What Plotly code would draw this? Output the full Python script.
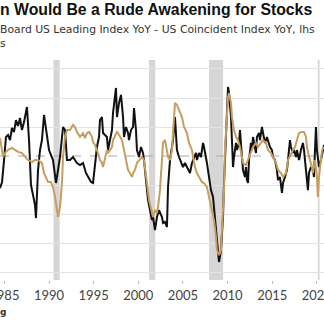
import plotly.graph_objects as go

# ---- data ----
lead_years = [1984.51,1984.74,1984.96,1985.18,1985.41,1985.63,1985.85,1986.08,1986.30,1986.53,1986.75,1986.97,1987.20,1987.42,1987.53,1987.76,1987.98,1988.21,1988.43,1988.54,1988.77,1988.99,1989.21,1989.44,1989.77,1990.00,1990.45,1990.78,1990.89,1991.23,1991.57,1991.79,1992.01,1992.35,1992.69,1993.13,1993.47,1993.81,1994.14,1994.37,1994.70,1994.93,1995.15,1995.37,1995.60,1995.71,1995.93,1996.05,1996.49,1996.61,1996.83,1997.05,1997.17,1997.50,1997.61,1997.84,1998.06,1998.29,1998.40,1998.62,1998.85,1998.96,1999.18,1999.41,1999.52,1999.74,1999.85,2000.08,2000.30,2000.53,2000.64,2000.86,2001.09,2001.31,2001.53,2001.65,2001.87,2002.09,2002.32,2002.65,2002.77,2002.99,2003.21,2003.33,2003.55,2003.77,2003.89,2004.11,2004.22,2004.33,2004.56,2004.78,2005.01,2005.23,2005.45,2005.57,2005.79,2006.01,2006.13,2006.46,2006.57,2006.80,2007.02,2007.25,2007.36,2007.58,2007.69,2007.92,2008.14,2008.37,2008.48,2008.59,2008.81,2008.93,2009.04,2009.26,2009.49,2009.60,2009.82,2009.93,2010.05,2010.16,2010.38,2010.49,2010.61,2010.72,2010.94,2011.05,2011.28,2011.39,2011.50,2011.61,2011.73,2011.95,2012.06,2012.17,2012.29,2012.40,2012.62,2012.73,2012.85,2013.07,2013.18,2013.29,2013.52,2013.63,2013.85,2013.97,2014.08,2014.19,2014.41,2014.53,2014.75,2014.97,2015.09,2015.31,2015.53,2015.65,2015.87,2016.09,2016.21,2016.43,2016.65,2016.77,2016.99,2017.10,2017.33,2017.44,2017.66,2017.77,2018.00,2018.22,2018.44,2018.56,2018.67,2018.89,2019.00,2019.12,2019.34,2019.56,2019.68,2019.79,2019.90,2020.01,2020.24,2020.46,2020.69,2020.80]
lead_minus_coinc = [-2.21,-1.79,-0.28,1.31,1.45,1.10,1.93,1.66,2.48,2.07,2.62,1.79,2.34,3.03,3.38,1.10,-2.00,-2.69,-3.38,-4.28,-0.97,0.41,1.10,2.83,1.31,0.41,-0.28,-1.86,-1.45,-0.07,2.00,1.79,-0.28,-0.28,-0.07,-0.48,-0.62,-0.48,-1.17,-1.45,-1.79,-1.86,-0.48,0.62,1.31,2.48,2.69,1.59,1.31,0.41,1.10,1.79,2.97,4.69,2.69,3.66,4.21,2.69,1.31,2.00,1.59,1.10,1.79,2.00,3.31,1.79,0.41,-0.07,0.62,0.21,-0.28,-1.86,-3.04,-3.73,-4.42,-4.21,-5.11,-4.21,-3.73,-4.21,-4.62,-4.55,-4.90,-2.14,-0.28,0.62,1.10,2.69,0.90,0.41,-0.07,-0.48,-0.76,-0.48,-0.76,-0.97,-1.17,-0.48,-0.28,0.21,-0.28,0.21,-0.07,0.90,0.62,-0.07,-0.48,-1.45,-2.35,-2.83,-3.52,-4.62,-5.80,-6.69,-7.31,-6.49,-4.21,-1.86,0.90,3.17,4.76,4.35,2.69,1.10,-0.76,-0.07,0.90,0.41,0.90,1.79,1.10,-0.07,-0.97,-1.45,-0.76,-1.66,-1.86,-0.28,0.90,0.41,1.31,0.62,0.21,1.31,1.59,1.10,2.00,1.59,1.10,0.90,1.31,1.10,0.62,0.41,-0.07,-0.28,-0.97,-1.66,-1.45,-2.55,-1.86,-1.45,-0.97,-0.28,1.10,0.62,0.21,0.41,-0.07,0.41,-0.28,0.41,0.90,0.41,-0.28,-1.45,-2.35,-1.17,-0.76,-0.97,-1.45,0.41,2.00,0.41,-0.76,-0.28,0.41,0.76]

rhs_years = [1984.51,1984.74,1984.85,1985.07,1985.41,1985.85,1986.19,1986.53,1986.97,1987.31,1987.65,1988.09,1988.43,1988.77,1989.21,1989.44,1989.66,1989.89,1990.22,1990.45,1990.67,1990.89,1991.01,1991.23,1991.45,1991.57,1991.79,1992.01,1992.35,1992.69,1992.91,1993.13,1993.47,1993.81,1994.03,1994.25,1994.48,1994.81,1994.93,1995.15,1995.37,1995.49,1995.71,1995.93,1996.05,1996.27,1996.49,1996.61,1996.83,1997.05,1997.17,1997.39,1997.61,1997.73,1997.95,1998.17,1998.40,1998.62,1998.85,1999.07,1999.29,1999.41,1999.63,1999.85,2000.08,2000.41,2000.64,2000.86,2000.97,2001.20,2001.42,2001.65,2001.87,2002.09,2002.21,2002.43,2002.65,2002.77,2002.99,2003.21,2003.33,2003.55,2003.77,2003.89,2004.00,2004.11,2004.33,2004.56,2004.89,2005.12,2005.45,2005.68,2006.01,2006.13,2006.35,2006.57,2006.80,2007.13,2007.36,2007.69,2007.92,2008.25,2008.48,2008.70,2008.81,2009.04,2009.26,2009.37,2009.60,2009.71,2009.93,2010.05,2010.16,2010.38,2010.49,2010.72,2010.94,2011.16,2011.39,2011.61,2011.73,2012.06,2012.29,2012.62,2012.85,2013.18,2013.41,2013.74,2013.97,2014.30,2014.53,2014.86,2015.09,2015.42,2015.65,2015.98,2016.21,2016.54,2016.77,2017.10,2017.33,2017.55,2017.77,2018.00,2018.33,2018.56,2018.78,2018.89,2019.12,2019.45,2019.56,2019.79,2020.01,2020.12,2020.24,2020.46,2020.58,2020.80]
rhs_values = [6.2,2.1,-0.3,1.0,2.1,2.8,2.1,1.4,1.0,-0.3,-1.4,-2.1,-1.4,-1.4,-2.4,-5.9,-7.6,-9.0,-9.0,-10.7,-14.1,-18.6,-21.0,-17.6,-9.3,-0.3,6.6,9.0,9.0,10.7,10.0,8.3,6.6,7.9,6.2,7.9,8.3,6.6,4.8,3.8,2.1,1.0,-1.4,-2.4,-3.8,-0.3,2.1,1.0,2.1,3.1,5.5,7.2,8.3,7.9,6.6,5.5,2.1,-1.4,-4.8,-5.9,-7.2,-5.9,-4.8,-2.4,-1.4,-0.3,-1.4,-5.9,-9.3,-15.2,-18.6,-21.0,-18.6,-19.7,-17.6,-11.7,-1.4,4.5,5.5,2.1,-0.3,-1.4,2.1,7.9,13.4,18.3,17.6,15.9,13.4,10.0,7.9,4.5,2.1,-0.3,-3.8,-5.9,-7.2,-9.0,-9.3,-10.7,-14.1,-18.6,-22.1,-27.9,-32.4,-34.2,-32.4,-25.5,-11.7,2.1,13.4,20.4,21.7,18.3,13.4,9.0,6.6,5.5,3.1,-0.3,-2.4,-3.1,-1.4,1.0,3.1,4.5,3.1,4.5,5.5,4.5,2.1,1.0,-0.3,-2.4,-4.8,-5.9,-7.2,-5.9,-1.4,1.0,2.1,3.1,5.5,7.9,8.3,8.3,6.6,3.1,-0.3,-3.8,-5.9,-1.4,-7.2,-14.1,-7.2,-0.3,2.1,3.1]

recession_starts = [1990.50, 2001.20, 2007.92, 2020.10]
recession_ends = [1991.20, 2001.90, 2009.50, 2020.30]

year_ticks = [1985, 1990, 1995, 2000, 2005, 2010, 2015, 2020]
year_labels = ["1985", "1990", "1995", "2000", "2005", "2010", "2015", "2020"]
lhs_grid = [-8, -6, -4, -2, 2, 4, 6]

x_range = [1984.51, 2020.80]
lhs_range = [-8.55, 6.62]
rhs_range = [v * 5 for v in lhs_range]

fig = go.Figure()

shapes = []
for s, e in zip(recession_starts, recession_ends):
    shapes.append(dict(type="rect", xref="x", yref="paper", x0=s, x1=e, y0=0, y1=1,
                       fillcolor="#d6d6d6", line=dict(width=0), layer="below"))
shapes.append(dict(type="line", xref="paper", yref="y", x0=0, x1=1, y0=0, y1=0,
                   line=dict(color="#a8a8a8", width=1, dash="dash"), layer="below"))

fig.add_trace(go.Scatter(x=rhs_years, y=rhs_values, mode="lines", yaxis="y2",
                         line=dict(color="#c59d5f", width=2), showlegend=False))
fig.add_trace(go.Scatter(x=lead_years, y=lead_minus_coinc, mode="lines",
                         line=dict(color="#111111", width=2), showlegend=False))

annotations = [
    dict(text="<b>n Would Be a Rude Awakening for Stocks</b>", xref="paper", yref="paper",
         x=-0.006, y=1 + (60 - 10) / 220, xanchor="left", yanchor="middle", showarrow=False,
         font=dict(family="Liberation Sans", size=15.8, color="#111111")),
    dict(text="Board US Leading Index YoY - US Coincident Index YoY, lhs", xref="paper", yref="paper",
         x=-0.006, y=1 + (60 - 29) / 220, xanchor="left", yanchor="middle", showarrow=False,
         font=dict(family="DejaVu Sans", size=10.8, color="#333333")),
    dict(text="s", xref="paper", yref="paper",
         x=-0.006, y=1 + (60 - 43) / 220, xanchor="left", yanchor="middle", showarrow=False,
         font=dict(family="DejaVu Sans", size=10.8, color="#333333")),
    dict(text="<b>g</b>", xref="paper", yref="paper",
         x=-0.006, y=(280 - 312) / 220, xanchor="left", yanchor="middle", showarrow=False,
         font=dict(family="DejaVu Sans", size=9, color="#333333")),
]

fig.update_layout(
    width=324, height=331,
    margin=dict(l=0, r=0, t=60, b=51, pad=0),
    paper_bgcolor="white", plot_bgcolor="white",
    shapes=shapes, annotations=annotations,
    xaxis=dict(range=x_range, tickvals=year_ticks, ticktext=year_labels,
               showgrid=False, zeroline=False, ticks="outside", ticklen=3,
               tickcolor="#bbbbbb", showline=False, ticklabeloverflow="allow",
               automargin=False,
               tickfont=dict(family="Lato", size=13, color="#444444")),
    yaxis=dict(range=lhs_range, tickvals=lhs_grid, showticklabels=False,
               showgrid=True, gridcolor="#e3e3e3", gridwidth=1, zeroline=False,
               automargin=False),
    yaxis2=dict(range=rhs_range, overlaying="y", side="right", showticklabels=False,
                showgrid=False, zeroline=False, automargin=False),
)

fig.write_html("out.html")
